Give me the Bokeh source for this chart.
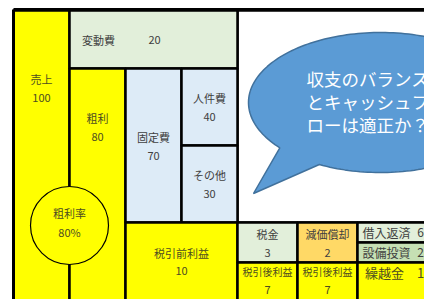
import numpy as np
from bokeh.plotting import figure
from bokeh.models import Range1d, ColumnDataSource
from bokeh.core.properties import value
from bokeh.embed import file_html
from bokeh.resources import INLINE

FONT = "Noto Sans CJK JP"

# ---- data (labels and values) ----
labels = ["売上", "変動費", "粗利", "固定費", "人件費", "その他", "税引前利益",
          "税金", "減価償却", "借入返済", "設備投資", "税引後利益", "税引後利益", "繰越金"]
values = ["100", "20", "80", "70", "40", "30", "10", "3", "2", "6", "2", "7", "7", "1"]
ratio_label = "粗利率"
ratio_value = "80%"
bubble_lines = ["収支のバランス", "とキャッシュフ", "ローは適正か？"]

# ---- layout (pixel grid) ----
L = [13, 69, 69, 125, 181, 181, 125, 237, 297, 357, 357, 237, 297, 357]
R = [69, 237, 125, 181, 237, 237, 237, 297, 357, 430, 430, 297, 357, 430]
T = [10, 10, 68, 68, 68, 145, 222, 222, 222, 222, 242, 262, 262, 262]
B = [305, 68, 305, 222, 145, 222, 305, 262, 262, 242, 262, 305, 305, 305]
fills = ["#FFFF00", "#E2EFDA", "#FFFF00", "#DDEBF7", "#DDEBF7", "#DDEBF7", "#FFFF00",
         "#E2EFDA", "#FFD966", "#E2EFDA", "#C6E0B4", "#FFFF00", "#FFFF00", "#FFFF00"]

p = figure(width=424, height=299, x_range=Range1d(0, 424), y_range=Range1d(299, 0),
           output_backend="svg", toolbar_location=None, min_border=0)
p.axis.visible = False
p.grid.visible = False
p.outline_line_color = None
p.background_fill_color = "white"

# white upper-right area
p.quad(left=[237], right=[430], top=[10], bottom=[222], fill_color="white",
       line_color="black", line_width=2.5)

p.quad(left=L, right=R, top=T, bottom=B, fill_color=fills, line_color="black", line_width=2.5)

# outer frame lines
p.segment(x0=[13, 13], y0=[9, 9], x1=[430, 13], y1=[9, 305], line_color="black", line_width=3)

# circle for gross margin ratio
p.ellipse(x=[69], y=[225], width=78, height=78, fill_color="#FFFF00",
          line_color="black", line_width=1.2)

# ---- texts ----
lab_x = [41, 98, 97, 153, 209, 209, 181, 267, 327, 362, 362, 267, 327, 384]
lab_y = [78, 39, 117, 136, 97, 174, 252, 233, 233, 232, 252, 271, 271, 272]
val_x = [41, 154, 97, 153, 209, 209, 181, 267, 327, 420, 420, 267, 327, 420]
val_y = [97, 39, 136, 155, 116, 193, 270, 252, 252, 232, 252, 289, 289, 272]
align = ["center"] * 9 + ["left", "left", "center", "center", "center"]
sizes = ["11px"] * 9 + ["12px", "12px", "10px", "10px", "13px"]
vsizes = ["11px"] * 9 + ["12px", "12px", "11px", "11px", "13px"]
tcol = ["#4d4d20" if f == "#FFFF00" else "#404040" for f in fills]

src = ColumnDataSource(dict(x=lab_x, y=lab_y, t=labels, a=align, s=sizes, c=tcol))
p.text(x="x", y="y", text="t", text_align="a", text_baseline="middle",
       text_font=value(FONT), text_font_size="s", text_color="c", source=src)
vsrc = ColumnDataSource(dict(x=val_x, y=val_y, t=values, s=vsizes, c=tcol))
p.text(x="x", y="y", text="t", text_align="center", text_baseline="middle",
       text_font=value(FONT), text_font_size="s", text_color="c", source=vsrc)

p.text(x=[69, 69], y=[212, 231], text=[ratio_label, ratio_value], text_align="center",
       text_baseline="middle", text_font=value(FONT), text_font_size="11px",
       text_color="#4d4d20")

# ---- speech bubble ----
cx, cy, a, b = 380.0, 102.0, 132.0, 70.0
tip = (253.0, 193.0)
th1, th2 = np.deg2rad(139.7), np.deg2rad(117.6 + 360)
th = np.linspace(th1, th2, 200)
bx = list(cx + a * np.cos(th)) + [tip[0]]
by = list(cy + b * np.sin(th)) + [tip[1]]
p.patch(bx, by, fill_color="#5B9BD5", line_color="#41719C", line_width=1.5)

p.text(x=[306] * 3, y=[78, 101, 124], text=bubble_lines, text_align="left",
       text_baseline="middle", text_font=value(FONT), text_font_size="17.5px",
       text_color="white")

open("out.html", "w").write(file_html(p, INLINE))
